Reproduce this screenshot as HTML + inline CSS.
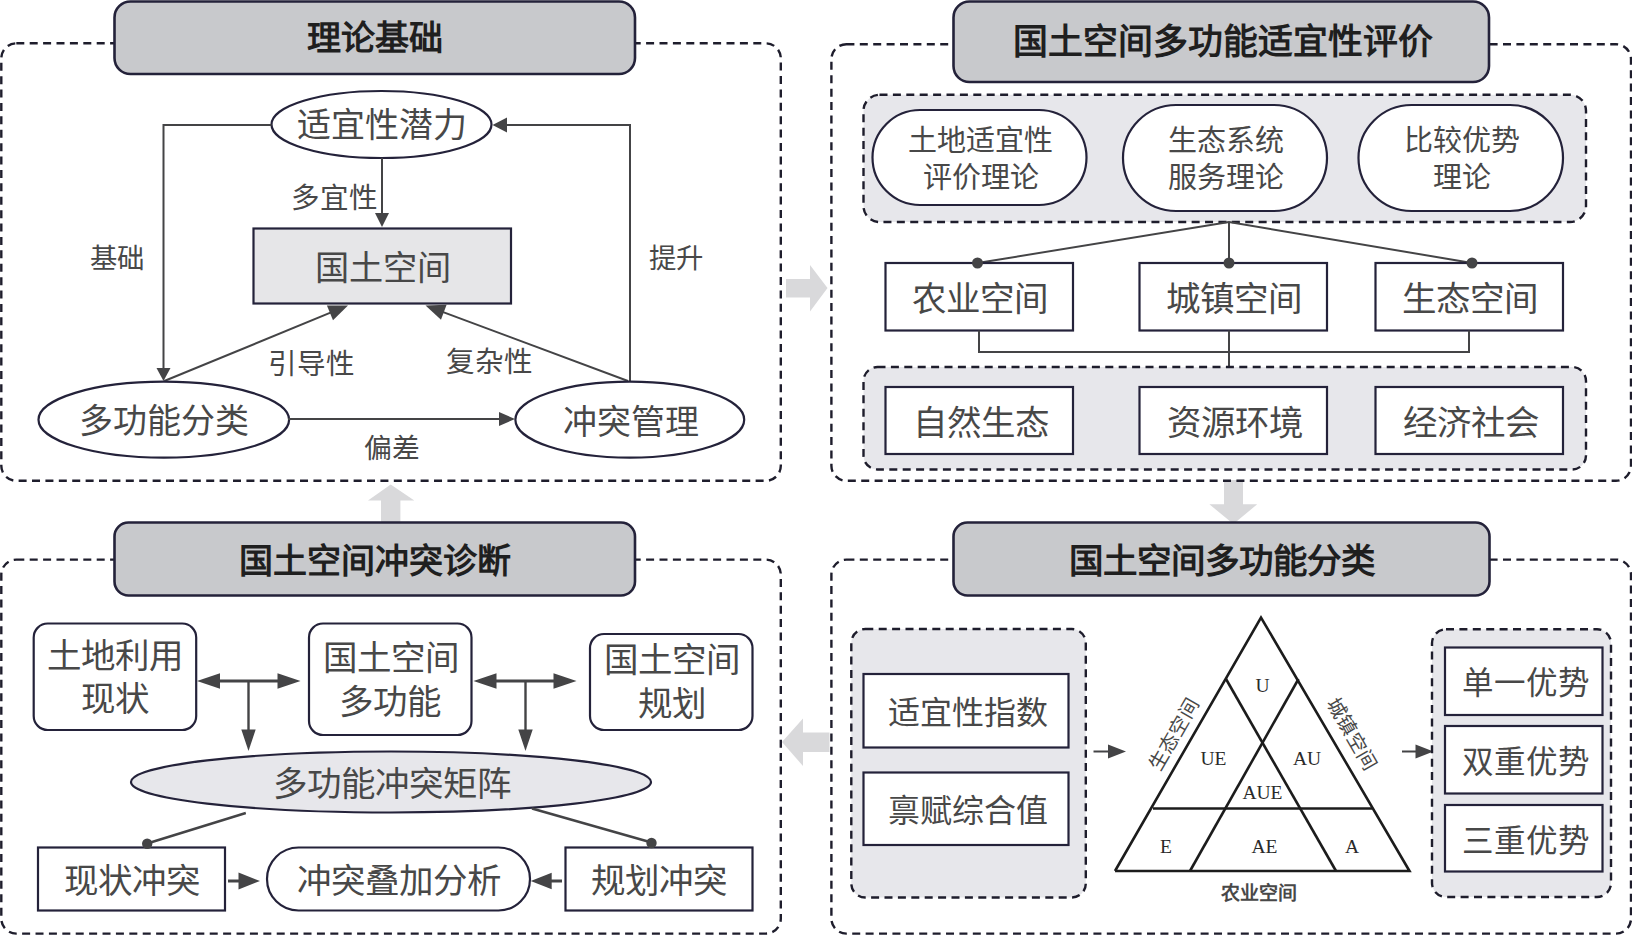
<!DOCTYPE html>
<html lang="zh-CN"><head><meta charset="utf-8"><title>diagram</title>
<style>html,body{margin:0;padding:0;background:#fff;width:1632px;height:936px;overflow:hidden}
svg{display:block} text{font-family:"Liberation Serif", serif}</style></head>
<body><svg width="1632" height="936" viewBox="0 0 1632 936">
<rect width="1632" height="936" fill="#fff"/>
<polygon points="786,279 810,279 810,265 827.5,288 810,311.5 810,297.5 786,297.5" fill="#d9d9db"/>
<polygon points="829.5,732.5 803,732.5 803,718.5 782,742 803,766 803,752 829.5,752" fill="#d9d9db"/>
<polygon points="381,522 381,500.5 368,500.5 390.7,484.5 414.3,500.5 400.4,500.5 400.4,522" fill="#d9d9db"/>
<polygon points="1224,480 1243,480 1243,504.3 1257.2,504.3 1233.4,524 1209.4,504.3 1224,504.3" fill="#d9d9db"/>
<rect x="1.3" y="43.3" width="779.5" height="437.5" rx="15" fill="none" stroke="#1e1d2c" stroke-width="2.4" stroke-dasharray="8 5.4"/>
<rect x="114.5" y="1.5" width="520.5" height="72.5" rx="16" fill="#c8c9cc" stroke="#24223a" stroke-width="2.6"/>
<text x="374.5" y="38.5" font-size="34" font-weight="bold" fill="#1f1f1f" text-anchor="middle" dominant-baseline="central">理论基础</text>
<ellipse cx="381.5" cy="124.5" rx="110" ry="33.5" fill="#fff" stroke="#24223a" stroke-width="2.2"/>
<text x="381.5" y="125.5" font-size="34" font-weight="normal" fill="#484848" text-anchor="middle" dominant-baseline="central">适宜性潜力</text>
<polyline points="271.5,125 163.5,125 163.5,373.2" fill="none" stroke="#444446" stroke-width="2"/>
<polygon points="163.5,381.0 156.5,368.0 170.5,368.0" fill="#444446"/>
<polyline points="382,158 382.0,218.6" fill="none" stroke="#444446" stroke-width="2"/>
<polygon points="382.0,227.0 375.0,213.0 389.0,213.0" fill="#444446"/>
<text x="334.5" y="198.5" font-size="28.6" font-weight="normal" fill="#484848" text-anchor="middle" dominant-baseline="central">多宜性</text>
<rect x="253.5" y="228.5" width="257.5" height="75" rx="0" fill="#e6e6e8" stroke="#24223a" stroke-width="2.2"/>
<text x="382.5" y="268" font-size="34.2" font-weight="normal" fill="#484848" text-anchor="middle" dominant-baseline="central">国土空间</text>
<text x="117" y="259" font-size="27.4" font-weight="normal" fill="#484848" text-anchor="middle" dominant-baseline="central">基础</text>
<text x="676" y="259" font-size="27.4" font-weight="normal" fill="#484848" text-anchor="middle" dominant-baseline="central">提升</text>
<polyline points="630,382 630,125 501.2,125.0" fill="none" stroke="#444446" stroke-width="2"/>
<polygon points="492.5,125.0 507.0,117.6 507.0,132.4" fill="#444446"/>
<polyline points="164.3,381 337.1783405428909,309.94766080028165" fill="none" stroke="#444446" stroke-width="2"/>
<polygon points="348.0,305.5 333.0,320.3 326.9,305.5" fill="#444446"/>
<polyline points="628,381 436.46281858056324,309.5873718658396" fill="none" stroke="#444446" stroke-width="2"/>
<polygon points="425.5,305.5 446.6,304.8 441.0,319.8" fill="#444446"/>
<text x="311" y="364" font-size="28.6" font-weight="normal" fill="#484848" text-anchor="middle" dominant-baseline="central">引导性</text>
<text x="489.5" y="362" font-size="28.6" font-weight="normal" fill="#484848" text-anchor="middle" dominant-baseline="central">复杂性</text>
<ellipse cx="163.8" cy="419.7" rx="125.3" ry="38" fill="#fff" stroke="#24223a" stroke-width="2.2"/>
<text x="164" y="421.8" font-size="34" font-weight="normal" fill="#484848" text-anchor="middle" dominant-baseline="central">多功能分类</text>
<ellipse cx="629.8" cy="419.7" rx="114.4" ry="38" fill="#fff" stroke="#24223a" stroke-width="2.2"/>
<text x="631" y="422" font-size="34" font-weight="normal" fill="#484848" text-anchor="middle" dominant-baseline="central">冲突管理</text>
<polyline points="288,419 505.4,419.0" fill="none" stroke="#444446" stroke-width="2"/>
<polygon points="515.0,419.0 499.0,426.0 499.0,412.0" fill="#444446"/>
<text x="391.5" y="448.5" font-size="27.8" font-weight="normal" fill="#484848" text-anchor="middle" dominant-baseline="central">偏差</text>
<rect x="831.4" y="44.2" width="799.6" height="436.6" rx="15" fill="none" stroke="#1e1d2c" stroke-width="2.4" stroke-dasharray="8 5.4"/>
<rect x="953.5" y="1.5" width="535.5" height="80.5" rx="16" fill="#c8c9cc" stroke="#24223a" stroke-width="2.6"/>
<text x="1223" y="42" font-size="34.85" font-weight="bold" fill="#1f1f1f" text-anchor="middle" dominant-baseline="central">国土空间多功能适宜性评价</text>
<rect x="863.5" y="94.8" width="722.5" height="127.2" rx="16" fill="#e7e7eb" stroke="#1e1d2c" stroke-width="2.4" stroke-dasharray="8 5.4"/>
<rect x="872.5" y="110" width="214.0" height="95" rx="47.5" fill="#fff" stroke="#24223a" stroke-width="2.2"/>
<text x="980.5" y="140.5" font-size="29" font-weight="normal" fill="#484848" text-anchor="middle" dominant-baseline="central">土地适宜性</text>
<text x="980.5" y="177.5" font-size="29" font-weight="normal" fill="#484848" text-anchor="middle" dominant-baseline="central">评价理论</text>
<rect x="1123" y="105" width="204" height="106" rx="53.0" fill="#fff" stroke="#24223a" stroke-width="2.2"/>
<text x="1226.0" y="140.5" font-size="29" font-weight="normal" fill="#484848" text-anchor="middle" dominant-baseline="central">生态系统</text>
<text x="1226.0" y="177.5" font-size="29" font-weight="normal" fill="#484848" text-anchor="middle" dominant-baseline="central">服务理论</text>
<rect x="1358.5" y="105" width="204.5" height="106" rx="53.0" fill="#fff" stroke="#24223a" stroke-width="2.2"/>
<text x="1461.75" y="140.5" font-size="29" font-weight="normal" fill="#484848" text-anchor="middle" dominant-baseline="central">比较优势</text>
<text x="1461.75" y="177.5" font-size="29" font-weight="normal" fill="#484848" text-anchor="middle" dominant-baseline="central">理论</text>
<polyline points="977.5,263 1229,222 1472,263" fill="none" stroke="#444446" stroke-width="2"/>
<polyline points="1229,222 1229,263" fill="none" stroke="#444446" stroke-width="2"/>
<rect x="885.5" y="263" width="187.5" height="67.5" rx="0" fill="#fff" stroke="#24223a" stroke-width="2.2"/>
<text x="980.0" y="298.5" font-size="34.5" font-weight="normal" fill="#484848" text-anchor="middle" dominant-baseline="central">农业空间</text>
<rect x="1139.5" y="263" width="187.5" height="67.5" rx="0" fill="#fff" stroke="#24223a" stroke-width="2.2"/>
<text x="1234.0" y="298.5" font-size="34.5" font-weight="normal" fill="#484848" text-anchor="middle" dominant-baseline="central">城镇空间</text>
<rect x="1375.5" y="263" width="187.5" height="67.5" rx="0" fill="#fff" stroke="#24223a" stroke-width="2.2"/>
<text x="1470.0" y="298.5" font-size="34.5" font-weight="normal" fill="#484848" text-anchor="middle" dominant-baseline="central">生态空间</text>
<polyline points="979,330.5 979,352 1469,352 1469,330.5" fill="none" stroke="#444446" stroke-width="2"/>
<circle cx="977.5" cy="263" r="5.5" fill="#444446"/>
<circle cx="1229" cy="263" r="5.5" fill="#444446"/>
<circle cx="1472" cy="263" r="5.5" fill="#444446"/>
<polyline points="1229,330.5 1229,367" fill="none" stroke="#444446" stroke-width="2"/>
<rect x="863.5" y="367" width="722.5" height="102.5" rx="14" fill="#e7e7eb" stroke="#1e1d2c" stroke-width="2.4" stroke-dasharray="8 5.4"/>
<rect x="885.5" y="387" width="187.5" height="67" rx="0" fill="#fff" stroke="#24223a" stroke-width="2.2"/>
<text x="981.0" y="422.5" font-size="34.5" font-weight="normal" fill="#484848" text-anchor="middle" dominant-baseline="central">自然生态</text>
<rect x="1139.5" y="387" width="187.5" height="67" rx="0" fill="#fff" stroke="#24223a" stroke-width="2.2"/>
<text x="1235.0" y="422.5" font-size="34.5" font-weight="normal" fill="#484848" text-anchor="middle" dominant-baseline="central">资源环境</text>
<rect x="1375.5" y="387" width="187.5" height="67" rx="0" fill="#fff" stroke="#24223a" stroke-width="2.2"/>
<text x="1471.0" y="422.5" font-size="34.5" font-weight="normal" fill="#484848" text-anchor="middle" dominant-baseline="central">经济社会</text>
<rect x="1.3" y="559.6" width="779.5" height="374" rx="15" fill="none" stroke="#1e1d2c" stroke-width="2.4" stroke-dasharray="8 5.4"/>
<rect x="114.5" y="522.5" width="520.5" height="73" rx="14" fill="#c8c9cc" stroke="#24223a" stroke-width="2.6"/>
<text x="375" y="561" font-size="34" font-weight="bold" fill="#1f1f1f" text-anchor="middle" dominant-baseline="central">国土空间冲突诊断</text>
<rect x="33.7" y="623.5" width="162.5" height="106.5" rx="14" fill="#fff" stroke="#24223a" stroke-width="2.2"/>
<text x="115" y="655.5" font-size="34.5" font-weight="normal" fill="#484848" text-anchor="middle" dominant-baseline="central">土地利用</text>
<text x="115" y="698.5" font-size="34.5" font-weight="normal" fill="#484848" text-anchor="middle" dominant-baseline="central">现状</text>
<rect x="309" y="623.5" width="162.5" height="111.5" rx="14" fill="#fff" stroke="#24223a" stroke-width="2.2"/>
<text x="390.5" y="657.5" font-size="34.5" font-weight="normal" fill="#484848" text-anchor="middle" dominant-baseline="central">国土空间</text>
<text x="390" y="702" font-size="34.5" font-weight="normal" fill="#484848" text-anchor="middle" dominant-baseline="central">多功能</text>
<rect x="590" y="634" width="162.5" height="96" rx="14" fill="#fff" stroke="#24223a" stroke-width="2.2"/>
<text x="671.5" y="659.5" font-size="34.5" font-weight="normal" fill="#484848" text-anchor="middle" dominant-baseline="central">国土空间</text>
<text x="671.5" y="704" font-size="34.5" font-weight="normal" fill="#484848" text-anchor="middle" dominant-baseline="central">规划</text>
<polyline points="210.8,681.0 286.7,681.0" fill="none" stroke="#444446" stroke-width="3"/>
<polygon points="300.5,681.0 277.5,688.8 277.5,673.2" fill="#444446"/>
<polygon points="197.0,681.0 220.0,673.2 220.0,688.8" fill="#444446"/>
<polyline points="248.5,681 248.5,738.1" fill="none" stroke="#444446" stroke-width="2.4"/>
<polygon points="248.5,751.0 241.3,729.5 255.7,729.5" fill="#444446"/>
<polyline points="487.3,681.0 562.7,681.0" fill="none" stroke="#444446" stroke-width="3"/>
<polygon points="576.5,681.0 553.5,688.8 553.5,673.2" fill="#444446"/>
<polygon points="473.5,681.0 496.5,673.2 496.5,688.8" fill="#444446"/>
<polyline points="525.5,681 525.5,738.1" fill="none" stroke="#444446" stroke-width="2.4"/>
<polygon points="525.5,751.0 518.3,729.5 532.7,729.5" fill="#444446"/>
<ellipse cx="391" cy="782" rx="260" ry="30.5" fill="#e7e7eb" stroke="#24223a" stroke-width="2.2"/>
<text x="391.5" y="783.5" font-size="34.5" font-weight="normal" fill="#484848" text-anchor="middle" dominant-baseline="central">多功能冲突矩阵</text>
<polyline points="245.8,813 147.2,843.5" fill="none" stroke="#444446" stroke-width="2.4"/>
<polyline points="532,808.5 651.5,842.5" fill="none" stroke="#444446" stroke-width="2.4"/>
<rect x="38" y="847.5" width="187" height="63" rx="0" fill="#fff" stroke="#24223a" stroke-width="2.2"/>
<text x="131.5" y="881" font-size="34.5" font-weight="normal" fill="#484848" text-anchor="middle" dominant-baseline="central">现状冲突</text>
<rect x="267" y="847.5" width="263" height="63" rx="31.5" fill="#fff" stroke="#24223a" stroke-width="2.2"/>
<text x="399" y="881" font-size="34.5" font-weight="normal" fill="#484848" text-anchor="middle" dominant-baseline="central">冲突叠加分析</text>
<rect x="565.5" y="847.5" width="187" height="63" rx="0" fill="#fff" stroke="#24223a" stroke-width="2.2"/>
<text x="659" y="880.5" font-size="34.5" font-weight="normal" fill="#484848" text-anchor="middle" dominant-baseline="central">规划冲突</text>
<circle cx="147.2" cy="843.8" r="5.2" fill="#444446"/>
<circle cx="651.5" cy="843" r="5.2" fill="#444446"/>
<polyline points="228,881 247.1,881.0" fill="none" stroke="#444446" stroke-width="3"/>
<polygon points="260.0,881.0 238.5,889.5 238.5,872.5" fill="#444446"/>
<polyline points="562,881 543.3000000000001,881.0" fill="none" stroke="#444446" stroke-width="3"/>
<polygon points="530.7,881.0 551.7,872.7 551.7,889.3" fill="#444446"/>
<rect x="831.4" y="559.6" width="799.6" height="374" rx="15" fill="none" stroke="#1e1d2c" stroke-width="2.4" stroke-dasharray="8 5.4"/>
<rect x="953.5" y="522.5" width="536" height="73" rx="14" fill="#c8c9cc" stroke="#24223a" stroke-width="2.6"/>
<text x="1222" y="561" font-size="34.5" font-weight="bold" fill="#1f1f1f" text-anchor="middle" dominant-baseline="central">国土空间多功能分类</text>
<rect x="851.3" y="629" width="234.5" height="268.5" rx="14" fill="#e7e7eb" stroke="#1e1d2c" stroke-width="2.4" stroke-dasharray="8 5.4"/>
<rect x="863.5" y="674" width="205" height="73.5" rx="0" fill="#fff" stroke="#24223a" stroke-width="2.2"/>
<text x="967.5" y="713" font-size="32" font-weight="normal" fill="#484848" text-anchor="middle" dominant-baseline="central">适宜性指数</text>
<rect x="863.5" y="772.5" width="205" height="72.5" rx="0" fill="#fff" stroke="#24223a" stroke-width="2.2"/>
<text x="968" y="810.5" font-size="32" font-weight="normal" fill="#484848" text-anchor="middle" dominant-baseline="central">禀赋综合值</text>
<polyline points="1093.5,751.5 1115.2,751.5" fill="none" stroke="#444446" stroke-width="2"/>
<polygon points="1126.0,751.5 1108.0,758.5 1108.0,744.5" fill="#444446"/>
<polyline points="1115,871 1261,617.5 1409.5,871 1115,871" fill="none" stroke="#1c1c1c" stroke-width="2.6"/>
<polyline points="1153,808.5 1372,808.5" fill="none" stroke="#1c1c1c" stroke-width="2.6"/>
<polyline points="1226,679 1336,871" fill="none" stroke="#1c1c1c" stroke-width="2.6"/>
<polyline points="1298.5,679 1190,871" fill="none" stroke="#1c1c1c" stroke-width="2.6"/>
<text x="1262.5" y="685" font-size="19.5" font-weight="normal" fill="#2a2a2a" text-anchor="middle" dominant-baseline="central">U</text>
<text x="1213.5" y="758.5" font-size="19.5" font-weight="normal" fill="#2a2a2a" text-anchor="middle" dominant-baseline="central">UE</text>
<text x="1307" y="758.5" font-size="19.5" font-weight="normal" fill="#2a2a2a" text-anchor="middle" dominant-baseline="central">AU</text>
<text x="1262.5" y="792.5" font-size="19.5" font-weight="normal" fill="#2a2a2a" text-anchor="middle" dominant-baseline="central">AUE</text>
<text x="1166" y="846" font-size="19.5" font-weight="normal" fill="#2a2a2a" text-anchor="middle" dominant-baseline="central">E</text>
<text x="1264.5" y="846" font-size="19.5" font-weight="normal" fill="#2a2a2a" text-anchor="middle" dominant-baseline="central">AE</text>
<text x="1352" y="846" font-size="19.5" font-weight="normal" fill="#2a2a2a" text-anchor="middle" dominant-baseline="central">A</text>
<text x="1174" y="734.5" font-size="19.5" font-weight="normal" fill="#484848" text-anchor="middle" dominant-baseline="central" transform="rotate(-60 1174 734.5)">生态空间</text>
<text x="1352" y="734.5" font-size="19.5" font-weight="normal" fill="#484848" text-anchor="middle" dominant-baseline="central" transform="rotate(60 1352 734.5)">城镇空间</text>
<text x="1259" y="893" font-size="19" font-weight="bold" fill="#484848" text-anchor="middle" dominant-baseline="central">农业空间</text>
<polyline points="1402,751.5 1422.7,751.5" fill="none" stroke="#444446" stroke-width="2"/>
<polygon points="1433.5,751.5 1415.5,758.5 1415.5,744.5" fill="#444446"/>
<rect x="1432" y="629.3" width="179" height="267.7" rx="14" fill="#e7e7eb" stroke="#1e1d2c" stroke-width="2.4" stroke-dasharray="8 5.4"/>
<rect x="1445" y="647.5" width="157.5" height="67.5" rx="0" fill="#fff" stroke="#24223a" stroke-width="2.2"/>
<text x="1526" y="683" font-size="31.5" font-weight="normal" fill="#484848" text-anchor="middle" dominant-baseline="central">单一优势</text>
<rect x="1445" y="726" width="157.5" height="67.5" rx="0" fill="#fff" stroke="#24223a" stroke-width="2.2"/>
<text x="1526" y="762" font-size="31.5" font-weight="normal" fill="#484848" text-anchor="middle" dominant-baseline="central">双重优势</text>
<rect x="1445" y="805" width="157.5" height="66.5" rx="0" fill="#fff" stroke="#24223a" stroke-width="2.2"/>
<text x="1526" y="841.5" font-size="31.5" font-weight="normal" fill="#484848" text-anchor="middle" dominant-baseline="central">三重优势</text>
</svg></body></html>
